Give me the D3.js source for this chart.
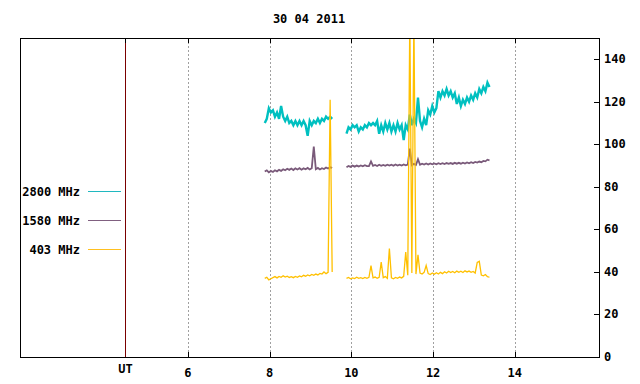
<!DOCTYPE html>
<html>
<head>
<meta charset="utf-8">
<script src="https://cdn.jsdelivr.net/npm/d3@7"></script>
<style>
  body { margin: 0; background: white; }
  text { font-family: "DejaVu Sans Mono", "Liberation Mono", monospace; font-weight: bold; font-size: 12px; }
</style>
</head>
<body>
<script>
const width = 640;
const height = 384;

const title = "30 04 2011";
const xTicks = [6, 8, 10, 12, 14];
const yTicks = [0, 20, 40, 60, 80, 100, 120, 140];
const utHour = 4.47;

const seriesNames = ["2800 MHz", "1580 MHz", "403 MHz"];
const seriesColors = ["#00c0c0", "#7a5a7a", "#ffc000"];
const legendColors = ["#20b8c0", "#806080", "#ffc020"];

// samples every 0.05 h, two observing runs
const step = 0.05;
const run1Start = 7.88;
const run2Start = 9.88;

const s2800a = [110, 112, 117, 115, 116, 113, 115, 112, 118, 113, 111, 113, 110, 111, 109, 111, 109,
  111, 109, 111, 109, 104, 111, 109, 111, 110, 112, 110, 112, 111, 113, 112, 113, 112];
const s2800b = [105, 108, 107, 109, 108, 109, 106, 108, 107, 109, 108, 110, 109, 110, 109, 111, 105,
  109, 106, 110, 107, 110, 106, 109, 106, 110, 107, 109, 102, 109, 107, 114, 109, 112, 110, 122, 111,
  108, 112, 109, 116, 114, 118, 115, 117, 125, 122, 125, 123, 126, 123, 125, 122, 124, 119, 122, 118,
  121, 119, 122, 120, 123, 121, 124, 122, 126, 124, 127, 125, 129, 127];

const s1580a = [87.2, 87.8, 86.8, 87.5, 87.0, 87.8, 87.3, 88.0, 87.5, 88.3, 87.8, 88.5, 88.0, 88.6,
  87.9, 88.7, 88.2, 88.8, 88.1, 88.7, 88.3, 88.9, 88.2, 88.8, 99.0, 88.3, 88.9, 88.2, 88.8, 88.4,
  89.1, 88.6, 89.2, 88.9];
const s1580b = [89.2, 89.8, 89.4, 90.0, 89.5, 90.0, 89.6, 90.1, 89.7, 90.2, 89.8, 89.8, 92.0, 89.9,
  90.3, 89.8, 90.4, 89.9, 90.3, 89.9, 90.4, 90.0, 90.4, 89.9, 90.5, 90.0, 90.4, 90.0, 90.5, 90.1,
  90.5, 98.0, 90.2, 90.8, 90.3, 93.0, 90.4, 90.9, 90.5, 91.0, 90.5, 91.0, 90.6, 91.0, 90.6, 91.1,
  90.7, 91.1, 90.7, 91.2, 90.8, 91.2, 90.8, 91.3, 90.9, 91.3, 90.9, 91.4, 91.0, 91.5, 91.1, 91.6,
  91.2, 91.7, 91.4, 91.9, 91.6, 92.2, 92.0, 92.8, 92.5];

const s403a = [37.0, 37.5, 36.3, 36.8, 37.3, 37.8, 37.2, 37.9, 37.5, 38.2, 37.6, 38.0, 37.4, 37.8,
  37.3, 37.9, 37.5, 38.1, 37.7, 38.4, 38.0, 38.6, 38.2, 38.8, 38.4, 39.0, 38.6, 39.3, 39.0, 40.0,
  39.2, 39.8, 121, 40.0];
const s403b = [37.0, 37.4, 36.8, 37.2, 36.9, 37.5, 37.0, 37.3, 36.9, 37.4, 37.0, 37.5, 43.0, 37.2,
  37.6, 37.0, 37.5, 44.6, 37.3, 37.8, 37.0, 51.0, 37.2, 36.8, 37.4, 37.0, 37.6, 37.2, 37.9, 49.3,
  38.5, 160, 39.5, 160, 39.0, 48.0, 39.5, 39.0, 39.8, 43.0, 39.2, 38.8, 39.5, 38.9, 39.6, 39.0,
  39.8, 39.2, 40.1, 39.5, 40.3, 39.7, 40.2, 39.6, 40.4, 39.8, 40.3, 39.7, 40.5, 40.0, 40.4, 39.8,
  40.2, 39.5, 44.5, 45.0, 38.5, 38.2, 38.8, 37.8, 37.5];

const series = [
  [s2800a, s2800b],
  [s1580a, s1580b],
  [s403a, s403b],
];

const x = d3.scaleLinear().domain([1.89, 16.06]).range([20, 599]);
const y = d3.scaleLinear().domain([0, 150]).range([357, 38]);

const svg = d3
  .select("body")
  .append("svg")
  .attr("width", width)
  .attr("height", height);

svg.append("rect")
  .attr("width", width)
  .attr("height", height)
  .attr("fill", "white");

svg.append("clipPath")
  .attr("id", "plot-clip")
  .append("rect")
  .attr("x", x.range()[0])
  .attr("y", y.range()[1])
  .attr("width", x.range()[1] - x.range()[0])
  .attr("height", y.range()[0] - y.range()[1]);

// dotted hour grid
svg.selectAll(".grid")
  .data(xTicks)
  .enter()
  .append("line")
  .attr("class", "grid")
  .attr("x1", d => Math.round(x(d)) + 0.5)
  .attr("x2", d => Math.round(x(d)) + 0.5)
  .attr("y1", y.range()[1])
  .attr("y2", y.range()[0])
  .attr("stroke", "#a0a0a0")
  .attr("stroke-dasharray", "2,2");

// UT line
svg.append("line")
  .attr("x1", Math.round(x(utHour)) + 0.5)
  .attr("x2", Math.round(x(utHour)) + 0.5)
  .attr("y1", y.range()[1])
  .attr("y2", y.range()[0])
  .attr("stroke", "#7a0000");

// data
const line = d3.line()
  .x(d => x(d[0]))
  .y(d => y(d[1]));

const plot = svg.append("g").attr("clip-path", "url(#plot-clip)");

series.forEach((runs, i) => {
  const starts = [run1Start, run2Start];
  runs.forEach((vals, r) => {
    const pts = vals.map((v, k) => [starts[r] + k * step, v]);
    plot.append("path")
      .attr("d", line(pts))
      .attr("fill", "none")
      .attr("stroke", seriesColors[i])
      .attr("stroke-width", i == 0 ? 2.4 : i == 1 ? 1.8 : 1.3);
  });
});

// frame
svg.append("rect")
  .attr("x", x.range()[0] + 0.5)
  .attr("y", y.range()[1] + 0.5)
  .attr("width", x.range()[1] - x.range()[0])
  .attr("height", y.range()[0] - y.range()[1])
  .attr("fill", "none")
  .attr("stroke", "black");

// x ticks top and bottom
xTicks.forEach(t => {
  const xp = Math.round(x(t)) + 0.5;
  svg.append("line")
    .attr("x1", xp).attr("x2", xp)
    .attr("y1", y.range()[0]).attr("y2", y.range()[0] - 5)
    .attr("stroke", "black");
  svg.append("line")
    .attr("x1", xp).attr("x2", xp)
    .attr("y1", y.range()[1]).attr("y2", y.range()[1] + 5)
    .attr("stroke", "black");
  svg.append("text")
    .attr("x", x(t))
    .attr("y", 377)
    .attr("text-anchor", "middle")
    .text(t);
});

svg.append("line")
  .attr("x1", Math.round(x(utHour)) + 0.5).attr("x2", Math.round(x(utHour)) + 0.5)
  .attr("y1", y.range()[1]).attr("y2", y.range()[1] + 5)
  .attr("stroke", "black");

svg.append("text")
  .attr("x", x(utHour))
  .attr("y", 373)
  .attr("text-anchor", "middle")
  .text("UT");

// right axis
yTicks.forEach(v => {
  const yp = Math.round(y(v)) + 0.5;
  if (v > 0) {
    svg.append("line")
      .attr("x1", x.range()[1] - 5).attr("x2", x.range()[1])
      .attr("y1", yp).attr("y2", yp)
      .attr("stroke", "black");
  }
  svg.append("text")
    .attr("x", 604)
    .attr("y", y(v) + 4)
    .text(v);
});

svg.append("text")
  .attr("x", 309)
  .attr("y", 23)
  .attr("text-anchor", "middle")
  .text(title);

// legend
const legendY = [191, 219.5, 248.5];
seriesNames.forEach((name, i) => {
  svg.append("text")
    .attr("x", 80)
    .attr("y", legendY[i] + 5)
    .attr("text-anchor", "end")
    .text(name);
  svg.append("line")
    .attr("x1", 88).attr("x2", 121)
    .attr("y1", Math.round(legendY[i]) + 0.5).attr("y2", Math.round(legendY[i]) + 0.5)
    .attr("stroke", legendColors[i]);
});
</script>
</body>
</html>
